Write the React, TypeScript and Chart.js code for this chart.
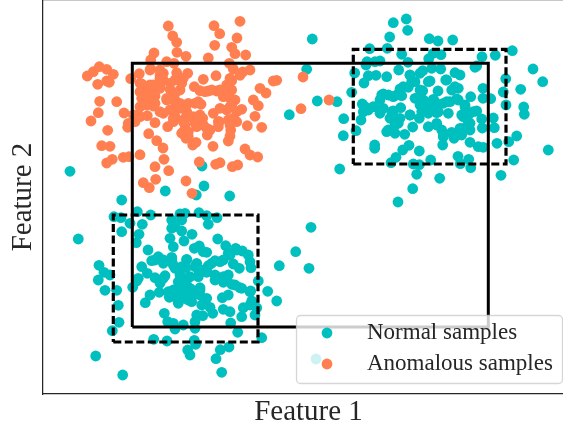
import React, { useEffect, useRef } from "react";
import { Chart, registerables } from "chart.js";

Chart.register(...registerables);

const xLabel = "Feature 1";
const yLabel = "Feature 2";
const normalLabel = "Normal samples";
const anomalyLabel = "Anomalous samples";
const xRange = [0, 531];
const yRange = [0, 394];

const anomalous: number[][] = [
[125.3,368],[171,368.3],[197,372.7],[176.7,360.3],[129.7,358],[194,356],[133.7,351.7],[171.7,348.7],[188.7,346.7],[134,341.7],[192,340.3],[111,341],[143,337.7],[202.7,339],[165.3,336],[107.7,334],[123.7,332.3],[131,330.7],[186.3,330.7],[190.3,325],[56.3,327.3],[63.7,324.7],[50.3,322.3],[44.3,318],[70.3,319.7],[107.7,325],[96.3,320.3],[87.7,315.3],[117,324],[133.7,321.3],[144.7,320.7],[207,324],[199.7,322],[197,318.7],[173,318.3],[160.3,314.7],[233.7,313.7],[230.3,313],[54.7,309.7],[66.3,311.7],[63.7,313],[98.7,310],[117,315.7],[120.3,320.7],[140.3,315.7],[138.7,310.7],[188.7,313.3],[185.3,309],[107,309],[117,310],[97,302.3],[98.7,295.7],[110.3,304],[127,304.7],[132,300.7],[151.3,307.3],[157,303.3],[165.3,303],[173.7,303],[182,304],[188.7,304],[217,305.7],[223,301],[210.3,294],[215.3,288.3],[56.7,292.7],[73.7,292.3],[103.7,295.7],[112,298],[123.7,294],[132,294],[137,290.7],[145.3,290.7],[152,290.7],[158,289.7],[192,294],[187,287.3],[97,287.3],[110.3,288],[117,282.3],[130.3,284],[132,277.3],[177,285.7],[170.3,280.7],[198.7,284.7],[193.7,282.3],[55.3,281.3],[81,281],[90.3,279],[97,277.3],[104.3,278.3],[92,272.3],[85.3,270.7],[84.7,266.7],[112,271.3],[48,273],[212,277.7],[130.3,272.3],[124.7,267.3],[142,275.7],[150.3,277.3],[159.7,275.7],[142,269],[152,270.7],[176.3,272.3],[175.3,267.3],[160.3,269],[167,264],[164.3,259],[190.3,275.7],[193.7,272.3],[187,269],[187.7,264],[204.3,268.3],[218.7,266.7],[64.7,263.7],[138.7,260.7],[145.3,262.3],[143,255.7],[105.7,260.3],[187,258],[185.3,253],[113.7,253.3],[153,251.7],[149.7,249],[170,247.7],[58.7,248.3],[67,247.7],[120,246],[202,245],[207,239],[214.7,237],[97,239.3],[80.3,236.7],[86,237.3],[69.3,234.7],[63.7,231],[121,234.7],[156.3,232],[177,231.3],[172.7,229.7],[194.7,229],[189.3,227.3],[112,227.3],[125.7,223.3],[112.7,214.7],[143,213],[100.3,211.3],[106.3,206.3],[149,200.7],[260,317],[286,294],[258,285.3],
[107,324],[117,319],[120.3,314],[110.3,309],[103.7,304],[117,305.7],[127,310.7],[132,314],[130.3,300.7],[137,304],[132,292.3],[123.7,295.7],[112,290.7],[103.7,289],[127,284],[120.3,280.7],[130.3,275.7],[137,285.7],[143.7,282.3],[140.3,272.3],[147,277.3],[157,279],[158.7,272.3],[163.7,265.7],[153.7,267.3],[155.3,292.3],[162,302.3],[168.7,304],[177,304],[183.7,309],[187,315.7],[180.3,297.3],[187,295.7],[188.7,289],[183.7,284],[185.3,274],[175.3,272.3],[97,310.7],[98.7,300.7],[95.3,279],[140.3,262.3],[145.3,257.3]
];

const normalUpperRight: number[][] = [
[363.3,375],[350.3,371.3],[364.7,363.7],[269.3,355],[346.7,357],[386.3,355.3],[395,353],[409.7,354],[326.7,345.3],[344.3,345.7],[469.3,343.3],[358.7,339.7],[390.3,340.7],[398,339.3],[439,337.3],[452.3,338.7],[385.7,335.3],[324,332.3],[332,332.3],[337,333],[323,329],[365,331.7],[433.7,328],[432,326.7],[490,325],[263.7,324.7],[311.7,321],[355.7,324],[379.7,323.3],[388.7,325.7],[397.7,325],[412,321.3],[417,319],[333,318.7],[325.3,318.3],[343.7,317.3],[321,311],[367,318.7],[377,320.7],[368.7,312.3],[387,313],[402.7,314],[462.7,315.3],[499.7,312.3],[477.7,304.7],[440,305.7],[415.3,305.7],[408.7,304],[395,303],[379.7,303.3],[365.3,306.7],[357,305],[460.3,302],[308.7,301.7],[340.3,300],[350.3,297.3],[358.7,298.3],[427.7,297.3],[440,295.7],[447.7,295.3],[372,295.7],[380.3,294],[390.3,294.7],[403.7,292.3],[413.7,295],[337,294],[274.3,293],[294,292.3],[319.3,290],[463,289],[480.7,287],[481.3,279.7],[333.7,287.3],[325.3,284],[320.3,282.3],[357.7,286.3],[377,289],[385.3,289],[393.7,287.3],[422,287.3],[433.7,283],[337,280.7],[350.3,283],[385.3,280.7],[393.7,281.3],[405.3,280.7],[418.7,279],[427,280.7],[246.3,279.3],[367,279],[376.3,275.7],[438.7,275],[450.3,276],[300.7,275.3],[318,274],[347,275.7],[355.3,270.7],[427,270.7],[369.7,267],[385.3,267.3],[393.7,269],[420.3,265.7],[427,264],[439.3,266],[451.3,266.3],[313,263.3],[343.7,262.3],[352,260.7],[361.7,259.7],[398.7,264],[408.7,261.7],[418.7,259],[300.3,258.3],[400.3,257.3],[411,255.7],[473.7,258],[465.7,252.3],[454,250.7],[427,251.7],[435.3,247.3],[440.3,246.7],[399.7,249],[331.7,249],[331.7,245.7],[366,248.7],[359.7,244],[505.3,244],[376.3,243],[353,236.7],[415,237.7],[425.7,234.7],[470.7,234],[387.7,234],[348,231.3],[370.3,230],[376.3,229.3],[417.3,230.3],[427.7,226.3],[296.7,225],[373.7,219.7],[458,218.7],[396.7,215.7],[369.7,205.3],[355,192],
[367,319],[372,312.3],[385.3,312.3],[360.3,307.3],[353.7,299],[345.3,299],[338.7,299],[377,304],[373.7,295.7],[382,292.3],[392,292.3],[400.3,290.7],[407,292.3],[415.3,294],[330.3,287.3],[340.3,285.7],[348.7,282.3],[357,275.7],[367,279],[378.7,282.3],[387,285.7],[395.3,282.3],[422,289],[430.3,282.3],[420.3,277.3],[425.3,272.3],[352,269],[345.3,264],[393.7,270.7],[400.3,259],[408.7,260.7],[417,265.7],[322,287.3],[403.7,314],[412,307.3]
];

const normalLowerLeft: number[][] = [
[27,222.7],[159,228],[161,208],[122.3,203],[78.7,194],[153.3,199],[186.7,198],[94.3,182.3],[71,177.3],[78,176.3],[107.7,179],[137,180],[142,180.7],[156,181.3],[163.7,178.3],[174,176.3],[128.7,174],[138.7,174],[87,170.7],[99.3,169.7],[165.3,169.7],[132,167.3],[128.7,165.7],[78.7,162.3],[138.7,163],[149,159.7],[96,159.7],[93.3,151.3],[127,155.7],[141,153],[174.7,155],[35.3,155],[268,166.7],[130.3,147.3],[105,144],[156.3,148],[151.3,145.7],[182.7,148.3],[192.7,145.7],[199.3,143],[163.7,141.7],[252.7,142.3],[205.3,139],[185.3,140.7],[108.7,133.3],[115.3,137.3],[128.7,136.7],[143.7,134.7],[180.3,134],[172,133.3],[56,128.7],[98.7,127.3],[120.3,130.7],[130.3,129],[153.7,130.7],[190.3,130],[207,132.3],[236.3,128.3],[266,125.7],[143,126.3],[165.3,128.3],[196.3,125.7],[208,126.3],[61,121.7],[67,119],[104.3,120.7],[95.3,115.7],[55.3,114],[112,116.3],[122,118.3],[137,119],[155.3,119],[163.7,121.7],[173.7,117.3],[185.3,119],[93.7,113],[89.7,106.7],[117,110.7],[135.3,112.3],[145.3,116.3],[180.3,111.7],[172,114],[215.3,113],[188.7,109.7],[143.7,109],[157,106.3],[62,103.7],[73.7,103.7],[116.3,101.7],[130.3,104],[197,106.3],[207.7,103],[224.7,102.7],[107,99],[126.3,96.7],[138.7,100.7],[150.3,99],[163.7,95.7],[185.3,99],[179.3,96.3],[102.3,91.3],[135.3,90.7],[148.7,92.3],[158.7,89],[208.7,93],[233.7,93],[75.3,88.7],[200.3,86.3],[167,86.7],[180.3,84.7],[187,82.3],[213.7,86.3],[207,89],[121.3,80.7],[169.7,80.7],[159.7,78.3],[153.7,79],[198.7,77.3],[212,79],[124.7,72.3],[152,72.3],[140.3,69],[130.3,70.7],[76,71.7],[187.7,71],[69.3,63.3],[132,65],[152,65.7],[194.7,61.7],[218.7,56.3],[110.7,54.7],[124,53],[151.3,53.7],[152.7,49.7],[186,47],[177.3,44.3],[144.7,44],[147,39],[52.7,38],[173,35.3],[79.7,19],[178.7,21.7],[142,104],[133.7,99],[147,105.7],[142,95.7],[157,99],[273,35],
[112,134],[120.3,134],[128.7,134],[138.7,127.3],[132,125.7],[143.7,134],[152,127.3],[160.3,124],[168.7,130.7],[177,132.3],[187,139],[193.7,144],[147,117.3],[155.3,117.3],[163.7,122.3],[172,119],[180.3,117.3],[137,111],[142,112.3],[140.3,105.7],[133.7,104],[148.7,104],[157,104],[127,97.3],[135.3,94],[145.3,94],[125.3,102.3],[120.3,115.7],[192,109],[198.7,105.7],[207,102.3],[160.3,142.3]
];

const solidBoxX = [89.3, 445.3];
const solidBoxY = [67, 330.7];
const dashedBoxUpperX = [310.3, 463];
const dashedBoxUpperY = [230, 344.7];
const dashedBoxLowerX = [70.3, 215];
const dashedBoxLowerY = [52, 179];

const normalColor = "#00BFBF";
const anomalyColor = "#FF7F50";
const inkColor = "#262626";
const serif = "'Liberation Serif', serif";

const toPoints = (pairs: number[][]) => pairs.map(([x, y]) => ({ x, y }));
const boxPath = (xs: number[], ys: number[]) => [
  { x: xs[0], y: ys[0] },
  { x: xs[1], y: ys[0] },
  { x: xs[1], y: ys[1] },
  { x: xs[0], y: ys[1] },
  { x: xs[0], y: ys[0] },
];

const boxDataset = (xs: number[], ys: number[], dash: number[], width: number) => ({
  data: boxPath(xs, ys),
  showLine: true,
  pointRadius: 0,
  borderColor: "#000000",
  borderWidth: width,
  borderDash: dash,
  borderJoinStyle: "miter" as const,
  tension: 0,
  order: 0,
  clip: false as const,
});

const legendPlugin = {
  id: "cornerLegend",
  afterDraw(chart: Chart) {
    const ctx = chart.ctx;
    ctx.save();
    ctx.beginPath();
    ctx.roundRect(296.5, 315.5, 266, 68, 4);
    ctx.fillStyle = "rgba(255,255,255,0.8)";
    ctx.fill();
    ctx.strokeStyle = "rgba(204,204,204,0.8)";
    ctx.lineWidth = 1.3;
    ctx.stroke();
    const rows: [string, string, number][] = [
      [normalLabel, normalColor, 333],
      [anomalyLabel, anomalyColor, 364],
    ];
    ctx.font = `23px ${serif}`;
    ctx.textBaseline = "middle";
    ctx.textAlign = "left";
    for (const [label, color, y] of rows) {
      ctx.beginPath();
      ctx.arc(327, y, 5.4, 0, Math.PI * 2);
      ctx.fillStyle = color;
      ctx.fill();
      ctx.fillStyle = inkColor;
      ctx.fillText(label, 367, y);
    }
    ctx.restore();
  },
};

export default function App() {
  const ref = useRef<HTMLCanvasElement>(null);
  useEffect(() => {
    const chart = new Chart(ref.current!, {
      type: "scatter",
      data: {
        datasets: [
          boxDataset(solidBoxX, solidBoxY, [], 3),
          boxDataset(dashedBoxUpperX, dashedBoxUpperY, [8, 3.5], 3.2),
          boxDataset(dashedBoxLowerX, dashedBoxLowerY, [8, 3.5], 3.2),
          {
            label: anomalyLabel,
            data: toPoints(anomalous),
            backgroundColor: anomalyColor,
            pointRadius: 5.4,
            pointBorderWidth: 0,
            order: 1,
          },
          {
            label: normalLabel,
            data: toPoints([...normalUpperRight, ...normalLowerLeft]),
            backgroundColor: normalColor,
            pointRadius: 5.4,
            pointBorderWidth: 0,
            order: 2,
          },
        ] as any,
      },
      options: {
        animation: false,
        responsive: false,
        layout: { padding: 0, autoPadding: false },
        plugins: { legend: { display: false }, tooltip: { enabled: false } },
        scales: {
          x: {
            type: "linear",
            min: xRange[0],
            max: xRange[1],
            grid: { display: false },
            border: { color: inkColor, width: 1.25 },
            ticks: { display: false },
            title: {
              display: true,
              text: xLabel,
              color: inkColor,
              font: { family: serif, size: 29 },
              padding: { top: 0, bottom: -2 },
            },
            afterFit: (s: any) => { s.height = 34; },
          },
          xTop: {
            type: "linear",
            position: "top",
            min: xRange[0],
            max: xRange[1],
            grid: { display: false },
            border: { color: inkColor, width: 1.25 },
            ticks: { display: false },
            afterFit: (s: any) => { s.height = 0; },
          },
          y: {
            type: "linear",
            min: yRange[0],
            max: yRange[1],
            grid: { display: false },
            border: { color: inkColor, width: 1.25 },
            ticks: { display: false },
            title: {
              display: true,
              text: yLabel,
              color: inkColor,
              font: { family: serif, size: 29 },
              padding: { top: 6, bottom: 0 },
            },
            afterFit: (s: any) => { s.width = 43; },
          },
        },
      } as any,
      plugins: [legendPlugin],
    });
    return () => chart.destroy();
  }, []);
  return (
    <div style={{ position: "fixed", left: 0, top: 0, width: 563, height: 428, overflow: "hidden" }}>
      <canvas ref={ref} width={574} height={428} style={{ width: 574, height: 428, display: "block" }} />
    </div>
  );
}
